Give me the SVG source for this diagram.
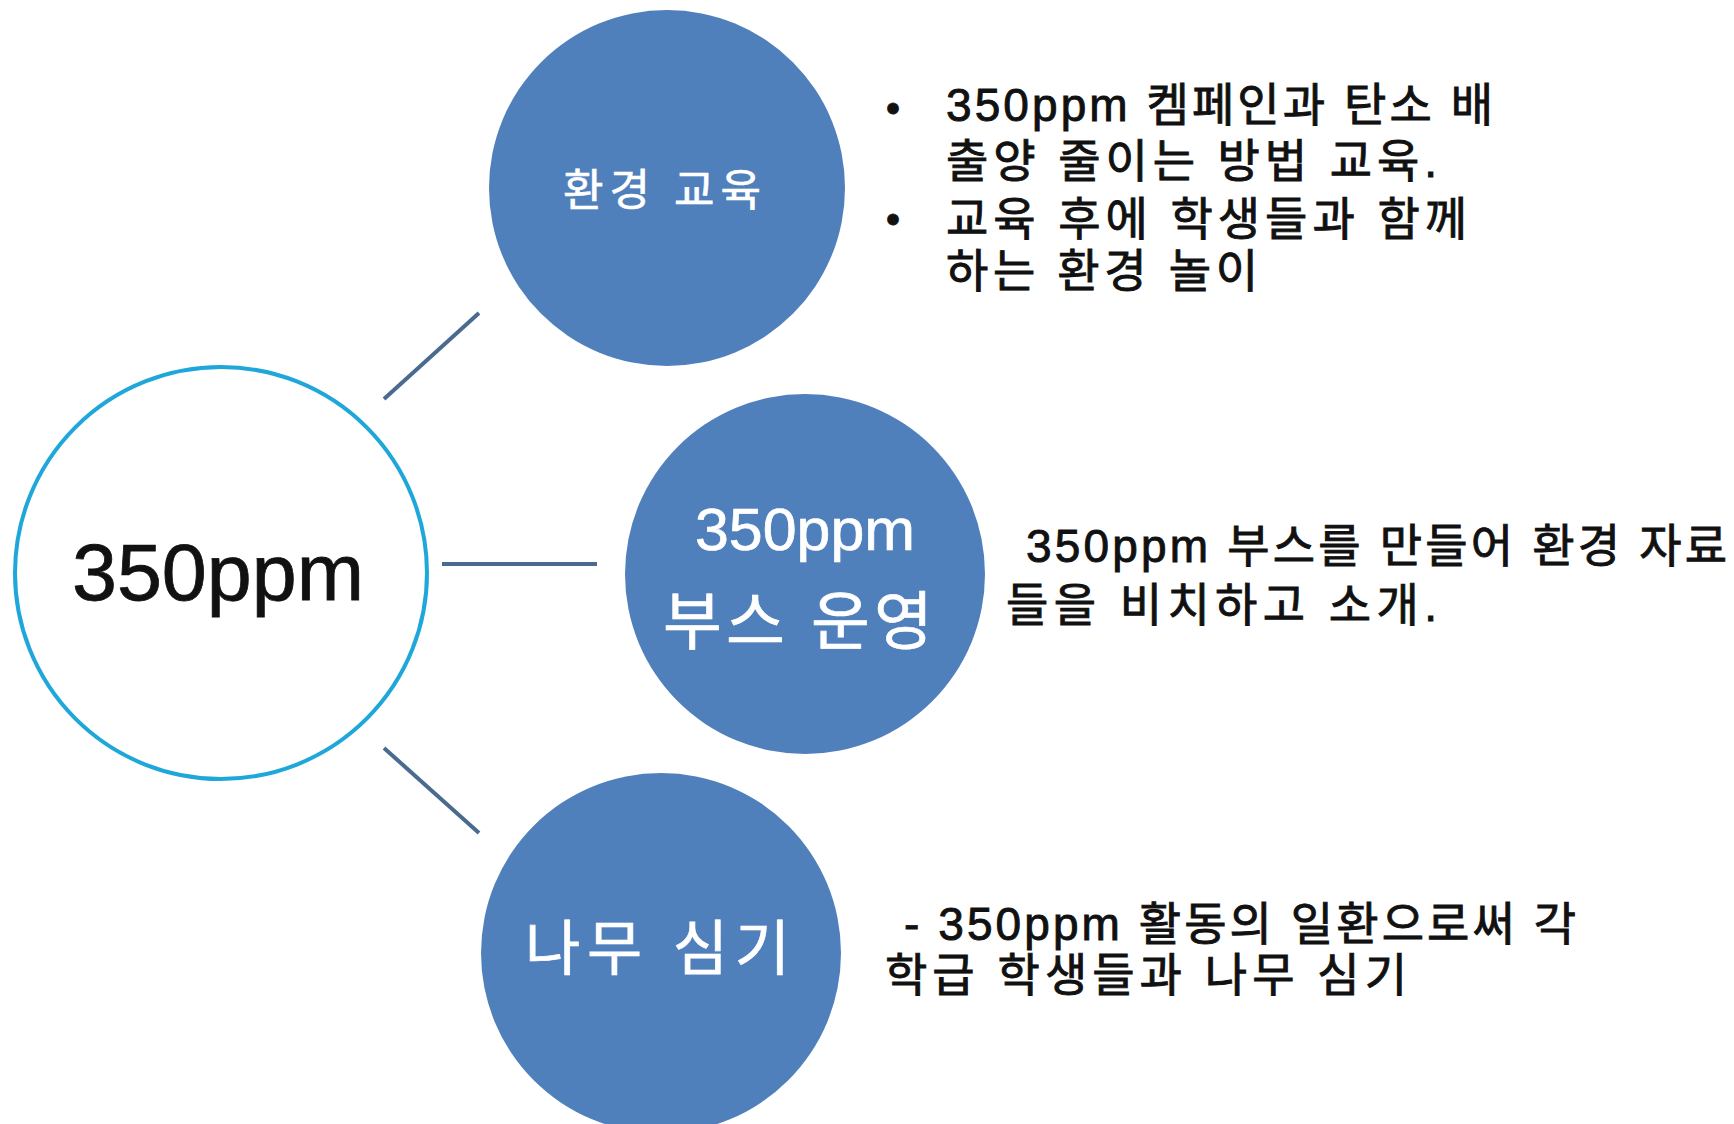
<svg xmlns="http://www.w3.org/2000/svg" width="1734" height="1124" viewBox="0 0 1734 1124">
<style>
.bg{fill:#ffffff}
.hub{fill:#ffffff;stroke:#1fa7da;stroke-width:4}
.sub{fill:#4f80bc}
.conn{stroke:#4a6a8f;stroke-width:4;fill:none}
.t{font-family:"Liberation Sans","Noto Sans CJK KR",sans-serif}
.w{fill:#ffffff;stroke:#ffffff;stroke-width:0.7}
.k{fill:#111111;stroke:#111111;stroke-width:0.9}
</style>
<rect class="bg" x="0" y="0" width="1734" height="1124"/>
<g id="connectors">
<line class="conn" x1="384" y1="399" x2="479" y2="313"/>
<line class="conn" x1="442" y1="564" x2="597" y2="564"/>
<line class="conn" x1="384" y1="748" x2="479" y2="833"/>
</g>
<g id="hub">
<circle class="hub" cx="221" cy="573" r="206"/>
<text class="t" x="218" y="600" font-size="80" text-anchor="middle" fill="#111111" stroke="#111111" stroke-width="0.8" textLength="292" lengthAdjust="spacingAndGlyphs">350ppm</text>
</g>
<g id="node-education">
<circle class="sub" cx="667" cy="188" r="178"/>
<text class="t w" x="563" y="206" font-size="44" textLength="198" lengthAdjust="spacing">환경 교육</text>
</g>
<g id="node-booth">
<circle class="sub" cx="805" cy="574" r="180"/>
<text class="t w" x="695" y="550" font-size="60" textLength="220" lengthAdjust="spacingAndGlyphs">350ppm</text>
<text class="t w" x="663" y="644" font-size="64" textLength="270" lengthAdjust="spacing">부스 운영</text>
</g>
<g id="node-tree">
<circle class="sub" cx="661" cy="953" r="180"/>
<text class="t w" x="525" y="970" font-size="60" textLength="265" lengthAdjust="spacing">나무 심기</text>
</g>
<g id="desc-education">
<text class="t k" x="886" y="122" font-size="40">•</text>
<text class="t k" x="886" y="233" font-size="40">•</text>
<text class="t k" x="946" y="121" font-size="46" textLength="547" lengthAdjust="spacing">350ppm 켐페인과 탄소 배</text>
<text class="t k" x="946" y="177" font-size="46" textLength="491" lengthAdjust="spacing">출양 줄이는 방법 교육.</text>
<text class="t k" x="946" y="235" font-size="46" textLength="521" lengthAdjust="spacing">교육 후에 학생들과 함께</text>
<text class="t k" x="946" y="287" font-size="46" textLength="312" lengthAdjust="spacing">하는 환경 놀이</text>
</g>
<g id="desc-booth">
<text class="t k" x="1026" y="562" font-size="46" textLength="701" lengthAdjust="spacing">350ppm 부스를 만들어 환경 자료</text>
<text class="t k" x="1006" y="621" font-size="46" textLength="431" lengthAdjust="spacing">들을 비치하고 소개.</text>
</g>
<g id="desc-tree">
<text class="t k" x="904" y="940" font-size="46" textLength="672" lengthAdjust="spacing">- 350ppm 활동의 일환으로써 각</text>
<text class="t k" x="885" y="991" font-size="46" textLength="522" lengthAdjust="spacing">학급 학생들과 나무 심기</text>
</g>
</svg>
